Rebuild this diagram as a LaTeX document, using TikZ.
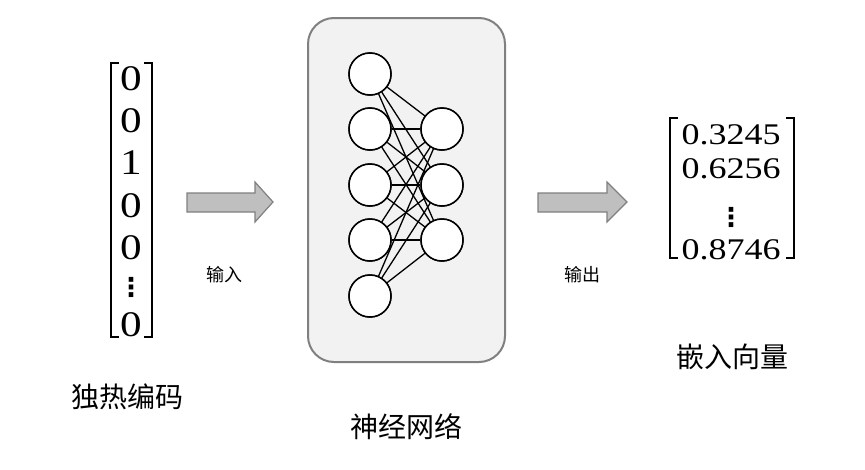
\documentclass[tikz,border=0pt]{standalone}
\usepackage{fontspec}
\newfontfamily\cjk{Noto Sans CJK SC}
\newfontfamily\digitfont[FakeStretch=1.2]{Liberation Serif}
\newfontfamily\dotfont{DejaVu Sans}
\begin{document}
\begin{tikzpicture}[x=1pt,y=-1pt,
  neuron/.style={circle,draw=black,fill=white,line width=1.5pt,minimum size=42pt,inner sep=0pt},
  edge/.style={line width=1.3pt,black},
  bigarrow/.style={fill=black!25,draw=black!50,line width=1.2pt,line join=miter},
  bracketline/.style={line width=2.2pt,black,line cap=butt,line join=miter},
  cjklabel/.style={font=\cjk\fontsize{28}{30}\selectfont,inner sep=0pt},
  smalllabel/.style={font=\cjk\fontsize{18}{20}\selectfont,inner sep=0pt},
  leftdigit/.style={font=\digitfont\fontsize{36}{36}\selectfont,inner sep=0pt},
  rightdigit/.style={font=\digitfont\fontsize{30}{30}\selectfont,inner sep=0pt},
  vdotsnode/.style={font=\dotfont\bfseries\fontsize{26}{26}\selectfont,inner sep=0pt}]
\useasboundingbox (0,0) rectangle (865,469);

% left one-hot vector
\draw[bracketline] (119,63) -- (111,63) -- (111,337) -- (119,337);
\draw[bracketline] (144,63) -- (152,63) -- (152,337) -- (144,337);
\node[leftdigit] (v1) at (131,79) {0};
\node[leftdigit] (v2) at (131,121) {0};
\node[leftdigit] (v3) at (131,163) {1};
\node[leftdigit] (v4) at (131,206) {0};
\node[leftdigit] (v5) at (131,248) {0};
\node[vdotsnode] (v6) at (131,287) {⋮};
\node[leftdigit] (v7) at (131,325) {0};
\node[cjklabel] (lab1) at (127,397) {独热编码};

% input arrow
\draw[bigarrow] (187,193) -- (255,193) -- (255,182) -- (273,202) -- (255,222) -- (255,212) -- (187,212) -- cycle;
\node[smalllabel] (in) at (224,275) {输入};

% neural network box
\draw[draw=black!50,fill=black!5,line width=2pt,rounded corners=26pt] (308,18) rectangle (505,362);
\node[cjklabel] (lab2) at (406,427) {神经网络};

\node[neuron] (a1) at (370,74) {};
\node[neuron] (a2) at (370,129) {};
\node[neuron] (a3) at (370,185) {};
\node[neuron] (a4) at (370,240) {};
\node[neuron] (a5) at (370,296) {};
\node[neuron] (b1) at (442,129) {};
\node[neuron] (b2) at (442,185) {};
\node[neuron] (b3) at (442,240) {};
\foreach \i in {1,...,5}{
  \foreach \j in {1,2,3}{
    \draw[edge] (a\i) -- (b\j);
  }
}
\foreach \i in {1,...,5}{\node[neuron] at (a\i) {};}
\foreach \j in {1,2,3}{\node[neuron] at (b\j) {};}

% output arrow
\draw[bigarrow] (538,193) -- (607,193) -- (607,182) -- (627,202) -- (607,222) -- (607,212) -- (538,212) -- cycle;
\node[smalllabel] (out) at (582,275) {输出};

% embedding vector
\draw[bracketline] (678,118) -- (670,118) -- (670,258) -- (678,258);
\draw[bracketline] (786,118) -- (794,118) -- (794,258) -- (786,258);
\node[rightdigit] (e1) at (731,135) {0.3245};
\node[rightdigit] (e2) at (731,169) {0.6256};
\node[vdotsnode] (e3) at (731,217) {⋮};
\node[rightdigit] (e4) at (731,250) {0.8746};
\node[cjklabel] (lab3) at (732,357) {嵌入向量};
\end{tikzpicture}
\end{document}
